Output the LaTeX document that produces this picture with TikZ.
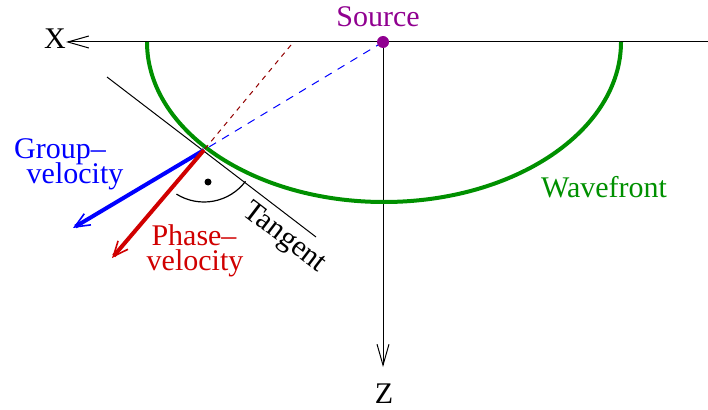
\documentclass[tikz,border=0pt]{standalone}
\usepackage{fontspec}
\setmainfont{Liberation Serif}
\usetikzlibrary{arrows.meta}

\definecolor{wavegreen}{RGB}{0,144,0}
\definecolor{phasered}{RGB}{208,0,0}
\definecolor{groupblue}{RGB}{0,0,255}
\definecolor{srcpurple}{RGB}{144,0,144}

\tikzset{
  lbl/.style={font=\fontsize{30}{25}\selectfont, inner sep=0pt, anchor=base},
  axis/.style={line width=1pt, -{Straight Barb[length=21pt,width=12pt]}},
  velarrow/.style={line width=4pt, -{Straight Barb[length=15pt,width=13pt,line width=1.6pt]}},
}

\begin{document}
\begin{tikzpicture}[x=1pt,y=-1pt]
    \useasboundingbox (0,0) rectangle (708,409);
    % points
    \coordinate (S) at (383,42);
    \coordinate (Xr) at (708,42);
    \coordinate (Xtip) at (66,42);
    \coordinate (Ztip) at (383,367);
    \coordinate (P) at (204,150);
    \coordinate (T1) at (107,77);
    \coordinate (T2) at (316,237);
    \coordinate (Gtip) at (73,228);
    \coordinate (Ftip) at (112,258);
    \coordinate (Fback) at (291,45);

    % axes
    \draw[axis] (Xr) -- (Xtip);
    \draw[axis] (S) -- (Ztip);
    \node[lbl] (xl) at (55,49) {X};
    \node[lbl] (zl) at (384,403) {Z};

    % wavefront
    \draw[wavegreen, line width=4pt] (621,42) arc[start angle=0, end angle=180, x radius=237, y radius=160];
    \node[lbl, text=wavegreen] (wf) at (604,197) {Wavefront};

    % rays back to the source
    \draw[groupblue, line width=1pt, dash pattern=on 8pt off 7pt] (S) -- (P);
    \draw[phasered!70!black, line width=1pt, dash pattern=on 5pt off 5pt] (Fback) -- (P);

    % tangent and right angle
    \draw[line width=1pt] (T1) -- (T2);
    \draw[line width=1.2pt] (P) ++(37:52) arc[start angle=37, end angle=122, radius=52];
    \fill (208,182) circle[radius=3.5];
    \node[font=\fontsize{30}{25}\selectfont, inner sep=0pt, rotate=-37.4] (tg) at (284,238) {Tangent};

    % velocities
    \draw[velarrow, groupblue] (P) -- (Gtip);
    \draw[velarrow, phasered] (P) -- (Ftip);
    \node[lbl, text=groupblue] (gr1) at (60,158) {Group–};
    \node[lbl, text=groupblue] (gr2) at (75,183) {velocity};
    \node[lbl, text=phasered] (ph1) at (194,245) {Phase–};
    \node[lbl, text=phasered] (ph2) at (195,270) {velocity};

    % source
    \fill[srcpurple] (S) circle[radius=6];
    \node[lbl, text=srcpurple] (src) at (378,27) {Source};
  \end{tikzpicture}
\end{document}
